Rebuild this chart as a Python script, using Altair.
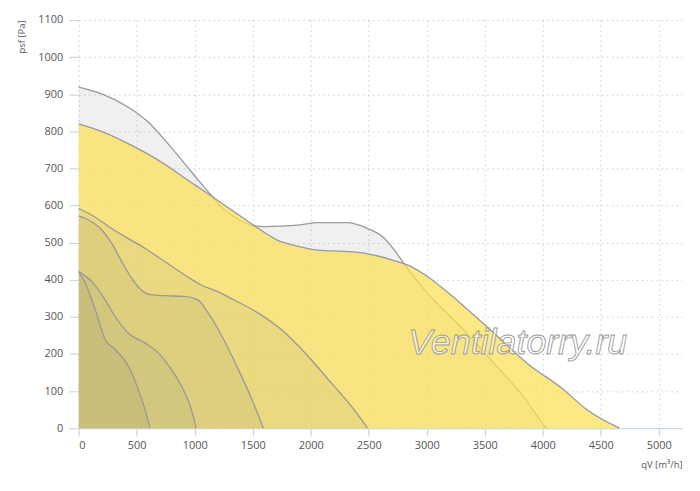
import pandas as pd
import altair as alt

# --- Courbes (qV en m3/h, psf en Pa) ---
max_q = [0, 214, 428, 599, 771, 913, 1056, 1156, 1227, 1341, 1512, 1598, 1892, 2063,
         2306, 2491, 2634, 2720, 2800, 3005, 3290, 3576, 3805, 4025]
max_p = [919, 899, 865, 825, 766, 713, 659, 623, 597, 570, 545, 543, 547, 554,
         554, 538, 512, 480, 445, 364, 274, 176, 96, 0]

main_q = [0, 228, 457, 713, 942, 1156, 1341, 1484, 1712, 1892, 2063, 2320, 2491,
          2748, 2834, 3005, 3290, 3576, 3861, 4175, 4375, 4660]
main_p = [820, 796, 762, 717, 668, 623, 583, 552, 507, 490, 480, 476, 470,
          449, 440, 409, 337, 257, 176, 105, 51, 0]

a_q = [0, 114, 285, 428, 571, 742, 913, 1056, 1199, 1300, 1549, 1749, 1977, 2177, 2348, 2490]
a_p = [592, 574, 538, 511, 485, 449, 413, 386, 368, 352, 310, 265, 194, 122, 60, 0]

b_q = [0, 86, 200, 285, 371, 457, 542, 628, 742, 913, 1027, 1113, 1199, 1284, 1370, 1492, 1592]
b_p = [572, 561, 534, 498, 449, 404, 372, 359, 357, 355, 346, 312, 268, 218, 162, 78, 0]

c_q = [0, 114, 228, 314, 428, 571, 685, 799, 885, 970, 1013]
c_p = [422, 395, 346, 301, 256, 230, 203, 158, 114, 51, 0]

d_q = [0, 57, 143, 228, 314, 428, 514, 571, 614]
d_p = [422, 391, 319, 239, 212, 167, 104, 51, 0]

x_ticks = [0, 500, 1000, 1500, 2000, 2500, 3000, 3500, 4000, 4500, 5000]
y_ticks = [0, 100, 200, 300, 400, 500, 600, 700, 800, 900, 1000, 1100]

watermark = ["Ventilatorry.ru"]
watermark_q = [3784]
watermark_p = [199]


def curve(q, p):
    return pd.DataFrame({"q": q, "p": p})


x_enc = alt.X("q:Q", scale=alt.Scale(domain=[0, 5200], nice=False),
              axis=alt.Axis(values=x_ticks, title="qV [m³/h]", format="d", labelOverlap=False))
y_enc = alt.Y("p:Q", scale=alt.Scale(domain=[0, 1100], nice=False),
              axis=alt.Axis(values=y_ticks, title="psf [Pa]", format="d", labelOverlap=False))

line_color = "#999999"


def area(df, color, opacity):
    return alt.Chart(df).mark_area(color=color, opacity=opacity, interpolate="monotone").encode(
        x=x_enc, y=y_enc)


def line(df):
    return alt.Chart(df).mark_line(color=line_color, strokeWidth=1.3, interpolate="monotone").encode(
        x=x_enc, y=y_enc)


overlay = "#827d78"

layers = [
    area(curve(max_q, max_p), "#b4b4b4", 0.2),
    line(curve(max_q, max_p)),
    area(curve(main_q, main_p), "#fbe15b", 0.74),
    line(curve(main_q, main_p)),
]
for q, p in [(a_q, a_p), (b_q, b_p), (c_q, c_p), (d_q, d_p)]:
    layers.append(area(curve(q, p), overlay, 0.11))
    layers.append(line(curve(q, p)))

# --- Filigrane ---
wm = alt.Chart(pd.DataFrame({"t": watermark, "q": watermark_q, "p": watermark_p})).mark_text(
    font="Liberation Sans", fontSize=36, fontStyle="italic", align="center",
    baseline="alphabetic", fill="#ffffff", fillOpacity=0.55, stroke="#9a9a9a",
    strokeWidth=0.9,
).encode(x=x_enc, y=y_enc, text="t:N")
layers.append(wm)

chart = (
    alt.layer(*layers)
    .properties(width=606, height=410, padding={"left": 71, "top": 11, "right": 10, "bottom": 55},
                autosize=alt.AutoSizeParams(type="none"))
    .configure_view(stroke=None)
    .configure_axis(
        labelFont="Open Sans", labelFontSize=11, labelColor="#555555",
        titleFont="Open Sans", titleFontSize=9.5, titleColor="#555555", titleFontWeight="normal",
        gridColor="#cccccc", gridDash=[1.5, 3.5], gridWidth=1,
        tickColor="#c3d2e2", domainColor="#c3d2e2",
    )
    .configure_axisX(tickSize=8, labelPadding=3, domain=True,
                     titleX=606, titleY=36, titleAlign="right", titleBaseline="middle")
    .configure_axisY(tickSize=10, labelPadding=6, domain=False,
                     titleX=-57, titleY=0, titleAngle=-90, titleAlign="right", titleBaseline="middle")
)

chart.save("out.html", embed_options={"renderer": "svg", "actions": False})
